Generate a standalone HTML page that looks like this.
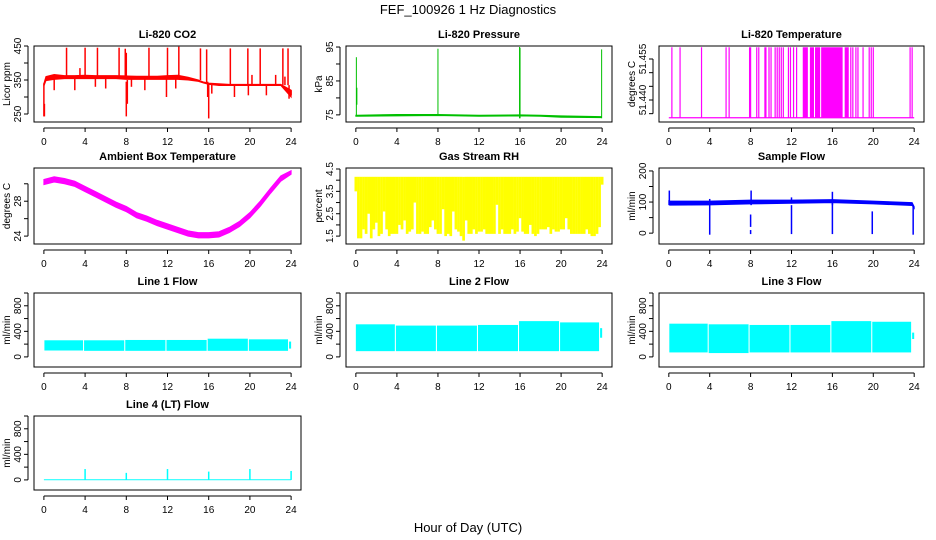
<!DOCTYPE html>
<html><head><meta charset="utf-8">
<style>
html,body{margin:0;padding:0;background:#fff;}
svg{display:block;font-family:"Liberation Sans",Arial,sans-serif;}
</style></head>
<body>
<svg id="chart" width="936" height="540" viewBox="0 0 936 540" xmlns="http://www.w3.org/2000/svg">
<text x="468" y="14" text-anchor="middle" font-size="13">FEF_100926  1 Hz Diagnostics</text>
<text x="468" y="532" text-anchor="middle" font-size="13">Hour of Day (UTC)</text>
</svg>
<script>
// ---------- data ----------
const xTicks = [0,4,8,12,16,20,24];

// CO2
const co2Hours = [0,0.2,1,2,3,4,5,6,7,8,9,10,11,12,13,14,15,15.5,16,17,18,19,20,21,22,23,24];
const co2Lo = [332,348,352,354,354,354,354,354,354,352,352,352,352,352,352,350,346,341,337,334,334,334,334,334,334,334,300];
const co2Hi = [340,360,366,363,363,364,363,363,363,362,361,361,361,363,364,358,350,344,341,339,337,337,337,337,337,337,320];
const co2SpikeHour = [2.2,4.0,5.2,7.3,7.9,10.2,12.0,13.1,15.2,15.8,18.1,19.8,21.0,23.2,23.7,0.0,0.05,8.0,8.1,16.0,15.9,3.0,1.0,5.0,8.5,9.8,11.9,18.5,19.85,21.6,23.8,24.0,6.0,12.8,16.3,3.5,8.0,20.2,22.5,23.4];
const co2SpikeLo = [355,355,355,355,355,355,355,355,350,340,335,335,335,335,335,243,243,243,280,237,300,320,320,330,330,320,300,300,305,305,295,305,325,325,310,355,355,335,335,335];
const co2SpikeHi = [445,445,445,445,442,445,445,448,443,440,443,443,443,443,443,340,280,345,350,340,345,355,355,355,355,355,355,335,335,335,335,320,355,355,340,385,430,365,365,360];
const co2Ticks = [250,300,350,400,450];
const co2Labels = [250,350,450];

// Pressure
const prHours = [0,0.1,4,8,12,16,18,20,23.9];
const prLo = [74.6,74.6,74.7,74.8,74.6,74.7,74.6,74.3,74.2];
const prHi = [74.9,74.9,75.1,75.1,74.9,75.0,74.9,74.7,74.5];
const prSpikeHour = [0.05,0.1,8.0,15.95,16.0,23.95];
const prSpikeLo = [74.8,78,74.8,74,74,74];
const prSpikeHi = [92,83,94.5,95,94.8,94.3];
const prTicks = [75,80,85,90,95];
const prLabels = [75,85,95];

// Li-820 temperature
const ltBase = 51.4335;
const ltTop = 51.4593;
const ltSpikeHour = [0.3,1.1,3.2,5.6,5.9,7.9,8.0,8.6,8.8,9.4,9.5,9.8,10.0,10.4,10.6,10.8,11.0,11.2,11.7,11.9,12.2,12.5,17.8,18.0,18.3,18.5,19.0,19.6,19.8,20.0,23.6,23.8];
const ltDenseStart = [13.1,13.8,14.3,14.9,17.2];
const ltDenseEnd = [13.6,14.2,14.8,17.0,17.6];
const ltTicks = [51.435,51.440,51.445,51.450,51.455];
const ltLabels = [51.440,51.455];

// Ambient box temperature
const abHours = [0,1,2,3,4,5,6,7,8,9,10,11,12,13,14,15,16,17,18,19,20,21,22,23,24];
const abLo = [29.9,30.2,30.0,29.7,29.1,28.5,27.9,27.3,26.8,26.1,25.7,25.2,24.8,24.4,24.0,23.8,23.8,23.9,24.4,25.1,26.1,27.4,28.9,30.3,31.1];
const abHi = [30.5,30.8,30.6,30.3,29.7,29.1,28.5,27.9,27.4,26.7,26.3,25.8,25.4,25.0,24.6,24.4,24.4,24.5,25.0,25.7,26.7,28.0,29.5,30.9,31.5];
const abTicks = [24,26,28,30];
const abLabels = [24,28];

// Gas stream RH (one low value per quarter hour)
const rhLow = [3.5,1.4,1.4,1.8,1.6,2.5,1.4,1.8,2.1,1.5,1.6,2.6,1.8,1.5,1.6,1.6,1.6,2.0,1.8,2.2,1.6,1.7,1.8,3.0,1.6,1.6,1.7,1.6,1.6,1.9,2.2,1.8,1.6,1.6,2.7,1.5,1.6,1.5,2.6,1.8,1.7,1.5,1.3,2.2,1.6,1.6,1.8,1.6,1.7,1.7,1.8,1.6,1.6,1.6,1.6,2.9,1.6,1.8,1.6,1.6,1.6,1.8,1.6,1.7,2.3,1.7,1.6,1.6,2.0,1.6,1.5,1.6,1.8,1.8,1.8,1.9,1.6,1.8,1.7,1.7,1.8,1.8,2.3,1.8,1.6,1.6,1.6,1.6,1.6,1.6,1.8,1.6,1.5,1.5,1.6,1.9,3.8];
const rhHigh = 4.15;
const rhTicks = [1.5,2.0,2.5,3.0,3.5,4.0,4.5];
const rhLabels = [1.5,2.5,3.5,4.5];

// Sample flow
const sfHours = [0,0.1,4,8,12,16,20,23.8,24];
const sfLo = [92,90,91,94,96,98,94,89,80];
const sfHi = [104,103,103,106,106,108,103,98,85];
const sfSpikeHour = [0.05,8.05,16.0,12.0,4.0,8.0,8.0,12.0,16.0,19.9,23.9];
const sfSpikeLo = [90,90,90,95,-5,20,-3,-3,-3,-3,-5];
const sfSpikeHi = [137,137,133,115,110,60,10,90,100,70,90];
const sfTicks = [0,50,100,150,200];
const sfLabels = [0,100,200];

// Line flows: segments
const l1Start = [0.05,3.9,7.9,11.9,15.9,19.9,23.8];
const l1End = [3.8,7.8,11.8,15.8,19.8,23.7,24.0];
const l1Lo = [100,95,95,95,95,95,130];
const l1Hi = [260,260,265,265,285,275,240];
const l2Start = [0.0,3.9,7.9,11.9,15.9,19.9,23.8];
const l2End = [3.8,7.8,11.8,15.8,19.8,23.7,24.0];
const l2Lo = [90,90,90,90,90,90,300];
const l2Hi = [510,490,490,500,560,540,450];
const l3Start = [0.05,3.9,7.9,11.9,15.9,19.9,23.8];
const l3End = [3.8,7.8,11.8,15.8,19.8,23.7,24.0];
const l3Lo = [70,60,70,70,70,70,280];
const l3Hi = [520,510,500,500,560,550,380];
const l4Start = [0.0];
const l4End = [24.0];
const l4Lo = [-5];
const l4Hi = [10];
const l4SpikeHour = [4,8,12,16,20,24];
const l4SpikeHi = [170,110,170,130,170,140];
const flowTicks = [0,200,400,600,800,1000];
const flowLabels = [0,400,800];

// ---------- drawing ----------
const NS = "http://www.w3.org/2000/svg";
const svg = document.getElementById('chart');
const COLS = [[34,301],[346,612],[659,924]];
const ROWS = [[46,122],[168,244],[293,367],[416,490]];
function mk(tag, attrs, parent){
  const e = document.createElementNS(NS, tag);
  for (const k in attrs) e.setAttribute(k, attrs[k]);
  (parent||svg).appendChild(e);
  return e;
}
function panel(name, title, ytitle, col, row, ymin, ymax, yTicks, yLabels, fmt){
  const [x0,x1] = COLS[col], [y0,y1] = ROWS[row];
  const g = mk('g', {});
  
  
  const xs = h => x0 + (h + 0.96) / 25.92 * (x1 - x0);
  const ys = v => y1 - (v - ymin) / (ymax - ymin) * (y1 - y0);
  const plot = mk('g', {}, g);
  
  
  const frame = mk('rect', {x:x0, y:y0, width:x1-x0, height:y1-y0, fill:'none', stroke:'#000', 'stroke-width':1}, g);
  
  
  const t = mk('text', {x:(x0+x1)/2, y:y0-8, 'text-anchor':'middle', 'font-size':11, 'font-weight':'bold'}, g);
  t.textContent = title;
  
  
  const yt = mk('text', {x:0, y:0, 'text-anchor':'middle', 'font-size':10, transform:`translate(${x0-24},${(y0+y1)/2}) rotate(-90)`}, g);
  yt.textContent = ytitle;
  
  
  const xa = mk('g', {}, g);
  
  
  mk('line', {x1:xs(xTicks[0]), x2:xs(xTicks[xTicks.length-1]), y1:y1+6, y2:y1+6, stroke:'#000'}, xa);
  xTicks.forEach(v => {
    mk('line', {x1:xs(v), x2:xs(v), y1:y1+6, y2:y1+10, stroke:'#000'}, xa);
    const l = mk('text', {x:xs(v), y:y1+23, 'text-anchor':'middle', 'font-size':10}, xa);
    l.textContent = v;
    
    
  });
  const ya = mk('g', {}, g);
  
  
  mk('line', {x1:x0-6, x2:x0-6, y1:ys(yTicks[0]), y2:ys(yTicks[yTicks.length-1]), stroke:'#000'}, ya);
  yTicks.forEach(v => mk('line', {x1:x0-10, x2:x0-6, y1:ys(v), y2:ys(v), stroke:'#000'}, ya));
  yLabels.forEach(v => {
    const l = mk('text', {x:0, y:0, 'text-anchor':'middle', 'font-size':10, transform:`translate(${x0-13},${ys(v)}) rotate(-90)`}, ya);
    l.textContent = fmt ? fmt(v) : v;
    
    
  });
  return {plot, xs, ys};
}
function band(p, hours, lo, hi, color){
  let d = hours.map((h,i)=>`${i?'L':'M'}${p.xs(h)},${p.ys(hi[i])}`).join('');
  for (let i = hours.length-1; i >= 0; i--) d += `L${p.xs(hours[i])},${p.ys(lo[i])}`;
  mk('path', {d: d+'Z', fill:color, stroke:color, 'stroke-width':1}, p.plot);
}
function spikes(p, hours, lo, hi, color, w){
  hours.forEach((h,i)=>mk('line', {x1:p.xs(h), x2:p.xs(h), y1:p.ys(lo[i]), y2:p.ys(hi[i]), stroke:color, 'stroke-width':w||1.5}, p.plot));
}
function segs(p, s, e, lo, hi, color){
  s.forEach((v,i)=>{
    const x = p.xs(v), x2 = p.xs(e[i]);
    mk('rect', {x:x, y:p.ys(hi[i]), width:Math.max(1,x2-x), height:p.ys(lo[i])-p.ys(hi[i]), fill:color}, p.plot);
  });
}

let p = panel('co2', 'Li-820 CO2', 'Licor ppm', 0, 0, 226.5, 450, co2Ticks, co2Labels);
band(p, co2Hours, co2Lo, co2Hi, '#ff0000');
spikes(p, co2SpikeHour, co2SpikeLo, co2SpikeHi, '#ff0000', 1.5);

p = panel('pressure', 'Li-820 Pressure', 'kPa', 1, 0, 72.9, 95.3, prTicks, prLabels);
band(p, prHours, prLo, prHi, '#00c000');
spikes(p, prSpikeHour, prSpikeLo, prSpikeHi, '#00c000', 1);

p = panel('li820-temp', 'Li-820 Temperature', 'degrees C', 2, 0, 51.43195, 51.45976, ltTicks, ltLabels, v=>v.toFixed(3));
mk('line', {x1:p.xs(0), x2:p.xs(24), y1:p.ys(ltBase), y2:p.ys(ltBase), stroke:'#ff00ff', 'stroke-width':1.2}, p.plot);
spikes(p, ltSpikeHour, ltSpikeHour.map(()=>ltBase), ltSpikeHour.map(()=>ltTop), '#ff00ff', 1.2);
segs(p, ltDenseStart, ltDenseEnd, ltDenseStart.map(()=>ltBase), ltDenseStart.map(()=>ltTop), '#ff00ff');

p = panel('ambient-temp', 'Ambient Box Temperature', 'degrees C', 0, 1, 23.094, 31.81, abTicks, abLabels);
band(p, abHours, abLo, abHi, '#ff00ff');

p = panel('rh', 'Gas Stream RH', 'percent', 1, 1, 1.147, 4.544, rhTicks, rhLabels);
rhLow.forEach((v,i)=>{
  mk('line', {x1:p.xs(i*0.25), x2:p.xs(i*0.25), y1:p.ys(v), y2:p.ys(rhHigh), stroke:'#ffff00', 'stroke-width':2.7}, p.plot);
});

p = panel('sample-flow', 'Sample Flow', 'ml/min', 2, 1, -34.9, 209.5, sfTicks, sfLabels);
band(p, sfHours, sfLo, sfHi, '#0000ff');
spikes(p, sfSpikeHour, sfSpikeLo, sfSpikeHi, '#0000ff', 1.5);

p = panel('line1-flow', 'Line 1 Flow', 'ml/min', 0, 2, -158, 1000, flowTicks, flowLabels);
segs(p, l1Start, l1End, l1Lo, l1Hi, '#00ffff');
p = panel('line2-flow', 'Line 2 Flow', 'ml/min', 1, 2, -158, 1000, flowTicks, flowLabels);
segs(p, l2Start, l2End, l2Lo, l2Hi, '#00ffff');
p = panel('line3-flow', 'Line 3 Flow', 'ml/min', 2, 2, -158, 1000, flowTicks, flowLabels);
segs(p, l3Start, l3End, l3Lo, l3Hi, '#00ffff');

p = panel('line4-flow', 'Line 4 (LT) Flow', 'ml/min', 0, 3, -158, 1000, flowTicks, flowLabels);
segs(p, l4Start, l4End, l4Lo, l4Hi, '#00ffff');
spikes(p, l4SpikeHour, l4SpikeHour.map(()=>0), l4SpikeHi, '#00ffff', 1.5);
</script>
</body></html>
